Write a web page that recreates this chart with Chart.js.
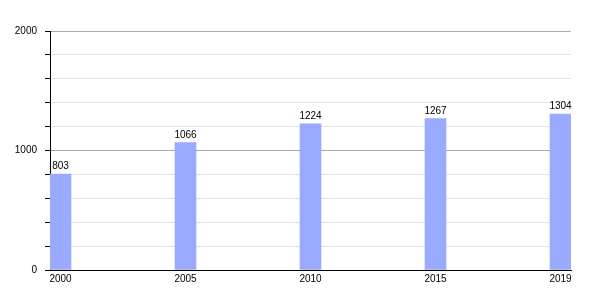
<!DOCTYPE html>
<html>
<head>
<meta charset="utf-8">
<script src="https://cdn.jsdelivr.net/npm/chart.js@4/dist/chart.umd.min.js"></script>
<style>
  html, body { margin: 0; padding: 0; background: #fff; }
  #wrap { width: 600px; height: 300px; position: relative; }
</style>
</head>
<body>
<div id="wrap"><canvas id="c" width="600" height="300"></canvas></div>
<script>
const years = ["2000", "2005", "2010", "2015", "2019"];
const population = [803, 1066, 1224, 1267, 1304];
const yTickLabels = [0, 1000, 2000];

const FONT = "'Liberation Sans', Arial, sans-serif";

const valueLabels = {
  id: 'valueLabels',
  afterDatasetsDraw(chart) {
    const ctx = chart.ctx;
    const meta = chart.getDatasetMeta(0);
    ctx.save();
    ctx.font = "10px " + FONT;
    ctx.fillStyle = "#000";
    ctx.textAlign = "center";
    ctx.textBaseline = "alphabetic";
    meta.data.forEach((bar, i) => {
      ctx.fillText(String(population[i]), bar.x, bar.y - 5);
    });
    ctx.restore();
  }
};

new Chart(document.getElementById('c'), {
  type: 'bar',
  data: {
    datasets: [{
      data: population.map((v, i) => ({ x: i, y: v })),
      backgroundColor: 'rgb(153,170,255)',
      borderWidth: 0,
      barThickness: 21
    }]
  },
  options: {
    responsive: false,
    animation: false,
    layout: { padding: { left: 0, right: 29, top: 31, bottom: 0 } },
    plugins: { legend: { display: false }, tooltip: { enabled: false } },
    scales: {
      x: {
        type: 'linear',
        offset: false,
        min: -0.084,
        max: 4.084,
        afterBuildTicks(scale) { scale.ticks = years.map((_, i) => ({ value: i })); },
        afterFit(scale) { scale.height = 30; },
        grid: { display: false, drawTicks: false, offset: false },
        border: { display: true, color: '#000', width: 1 },
        ticks: {
          padding: 3,
          maxRotation: 0,
          autoSkip: false,
          color: '#000',
          font: { size: 10, family: FONT },
          callback: (v) => years[v] !== undefined ? years[v] : ''
        }
      },
      y: {
        min: 0,
        max: 2000,
        afterFit(scale) { scale.width = 50; },
        grid: {
          color: (c) => (c.tick && yTickLabels.includes(c.tick.value)) ? '#aaaaaa' : '#e2e2e2',
          tickColor: '#000',
          tickLength: 5,
          drawTicks: true
        },
        border: { display: true, color: '#000', width: 1 },
        ticks: {
          stepSize: 200,
          padding: 8,
          color: '#000',
          font: { size: 10, family: FONT },
          callback: (v) => yTickLabels.includes(v) ? String(v) : ''
        }
      }
    }
  },
  plugins: [valueLabels]
});
</script>
</body>
</html>
